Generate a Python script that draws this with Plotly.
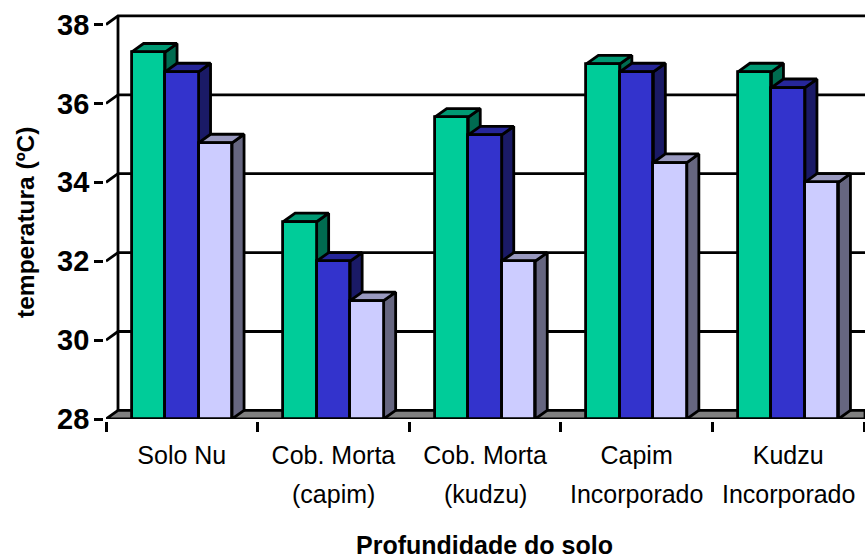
import plotly.graph_objects as go

# ---- data ----
line1_labels = ["Solo Nu", "Cob. Morta", "Cob. Morta", "Capim", "Kudzu"]
line2_labels = ["", "(capim)", "(kudzu)", "Incorporado", "Incorporado"]
serie_a = [37.3, 33.0, 35.65, 37.0, 36.8]
serie_b = [36.8, 32.0, 35.2, 36.8, 36.4]
serie_c = [35.0, 31.0, 32.0, 34.5, 34.0]
y_ticks = [28, 30, 32, 34, 36, 38]
y_title = "temperatura (ºC)"
x_title = "Profundidade do solo"

# ---- styling ----
FACES = [("#00CC99", "#009973", "#006B50"),
         ("#3333CC", "#262699", "#1A1A66"),
         ("#CCCCFF", "#9999BF", "#666680")]
W, H = 865, 559
ML, MB, MT = 106, 140, 13
PX_X = 151.6
PX_Y = 39.45
BAR = 100.5 / 3 / PX_X
DX = 12 / PX_X
DY = 8.6 / PX_Y
XMIN, XMAX = -0.5, -0.5 + (W - ML) / PX_X
YMIN, YMAX = 28, 28 + (H - MB - MT) / PX_Y
LW = 2.8
FONT = "Liberation Sans, Arial, sans-serif"
BLACK = "#000000"

fig = go.Figure()

# floor
fig.add_trace(go.Scatter(x=[XMIN, XMIN + DX, XMAX, XMAX, XMIN], y=[YMIN, YMIN + DY, YMIN + DY, YMIN, YMIN],
                         mode="lines", fill="toself", fillcolor="#808080",
                         line=dict(color=BLACK, width=LW), zorder=1, hoverinfo="skip", showlegend=False))
# walls and gridlines
gx, gy = [XMIN + DX, XMIN + DX, None], [YMIN + DY, y_ticks[-1] + DY, None]
for t in y_ticks[1:]:
    gx += [XMIN, XMIN + DX, XMAX, None]
    gy += [t, t + DY, t + DY, None]
fig.add_trace(go.Scatter(x=gx, y=gy, mode="lines", line=dict(color=BLACK, width=LW),
                         zorder=1, hoverinfo="skip", showlegend=False))

# 3-D bars
for k, (vals, (front, top, side)) in enumerate(zip([serie_a, serie_b, serie_c], FACES)):
    tx, ty, sx, sy = [], [], [], []
    for c, v in enumerate(vals):
        x0 = c + (k - 1.5) * BAR
        x1 = x0 + BAR
        tx += [x0, x0 + DX, x1 + DX, x1, x0, None]
        ty += [v, v + DY, v + DY, v, v, None]
        sx += [x1, x1 + DX, x1 + DX, x1, x1, None]
        sy += [v, v + DY, YMIN + DY, YMIN, v, None]
    for px, py, col in ((sx, sy, side), (tx, ty, top)):
        fig.add_trace(go.Scatter(x=px, y=py, mode="lines", fill="toself", fillcolor=col,
                                 line=dict(color=BLACK, width=LW), zorder=2 + 2 * k,
                                 hoverinfo="skip", showlegend=False))
    fig.add_trace(go.Bar(x=list(range(len(vals))), y=[v - YMIN for v in vals], base=YMIN,
                         width=BAR, offset=(k - 1.5) * BAR, marker=dict(color=front, line=dict(color=BLACK, width=LW)),
                         zorder=3 + 2 * k, showlegend=False))

# second lines of category labels
for c, txt in enumerate(line2_labels):
    if txt:
        fig.add_annotation(x=c, y=0, xref="x", yref="paper", text=txt, showarrow=False, yanchor="top",
                           yshift=-59, font=dict(family=FONT, size=25, color=BLACK))
# axis titles
fig.add_annotation(x=0, y=32.97, xref="paper", yref="y", text="<b>" + y_title + "</b>", textangle=-90,
                   showarrow=False, xanchor="center", yanchor="middle", xshift=-80,
                   font=dict(family=FONT, size=24.5, color=BLACK))
fig.add_annotation(x=0.5, y=0, xref="paper", yref="paper", text="<b>" + x_title + "</b>", showarrow=False,
                   xanchor="center", yanchor="middle", yshift=-126, xshift=-1,
                   font=dict(family=FONT, size=25, color=BLACK))

fig.update_layout(
    width=W, height=H, margin=dict(l=ML, r=0, t=MT, b=MB), paper_bgcolor="white", plot_bgcolor="white",
    bargap=0, showlegend=False, font=dict(family=FONT, color=BLACK),
    xaxis=dict(range=[XMIN, XMAX], showgrid=False, zeroline=False, showline=True, linecolor=BLACK, linewidth=LW,
               tickmode="array", tickvals=list(range(5)), ticktext=line1_labels, ticks="", ticklen=0,
               ticklabelstandoff=12, tickfont=dict(family=FONT, size=25, color=BLACK),
               minor=dict(tickmode="array", tickvals=[c - 0.5 for c in range(6)], ticks="outside", ticklen=10,
                          tickwidth=LW, tickcolor=BLACK, showgrid=False)),
    yaxis=dict(range=[YMIN, YMAX], showgrid=False, zeroline=False, showline=True, linecolor=BLACK, linewidth=LW,
               tickmode="array", tickvals=y_ticks, ticks="outside", ticklen=9, tickwidth=LW, tickcolor=BLACK,
               ticklabelstandoff=-1,
               tickfont=dict(family=FONT, size=29, color=BLACK, weight="bold")),
)
fig.write_html("out.html", config={"displayModeBar": False}, post_script="document.body.style.margin='0';")
